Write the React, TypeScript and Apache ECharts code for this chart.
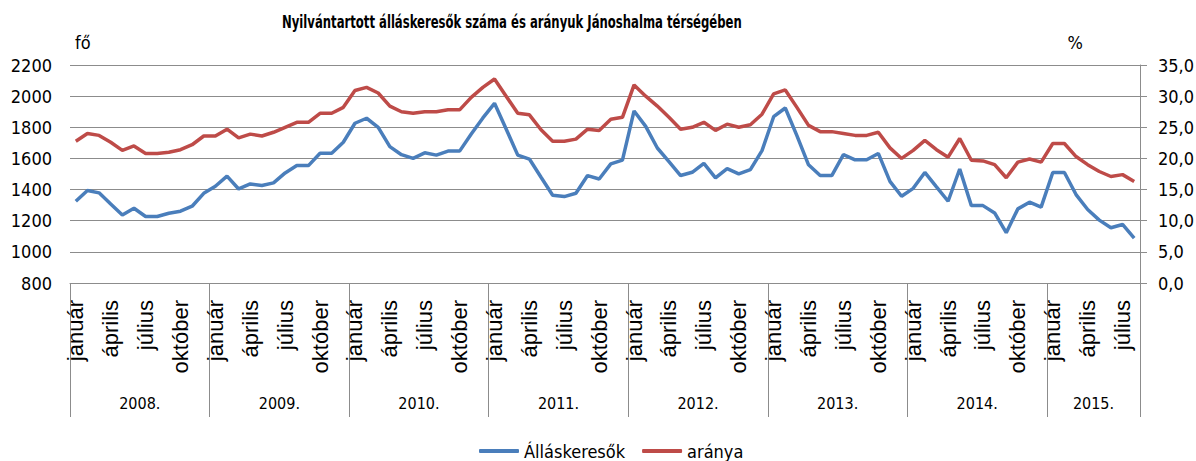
import React, { useEffect, useRef } from "react";
import * as echarts from "echarts";

const YEARS = ["2008.", "2009.", "2010.", "2011.", "2012.", "2013.", "2014.", "2015."];
const MONTHS_PER_YEAR = [12, 12, 12, 12, 12, 12, 12, 8];
const MONTH_NAMES = [
  "január", "február", "március", "április", "május", "június",
  "július", "augusztus", "szeptember", "október", "november", "december",
];
const LABELED_MONTHS = [0, 3, 6, 9];

const JOBSEEKERS = [
  1325, 1394, 1379, 1308, 1237, 1280, 1227, 1227, 1248, 1261, 1293, 1376,
  1421, 1486, 1404, 1436, 1426, 1443, 1507, 1554, 1554, 1633, 1633, 1704,
  1826, 1858, 1800, 1676, 1624, 1600, 1636, 1621, 1647, 1647, 1757, 1860,
  1954, 1789, 1621, 1596, 1479, 1364, 1355, 1376, 1490, 1468, 1565, 1589,
  1905, 1806, 1667, 1579, 1490, 1511, 1568, 1475, 1535, 1501, 1528, 1650,
  1868, 1924, 1746, 1559, 1490, 1490, 1624, 1591, 1591, 1632, 1453, 1357,
  1408, 1510, 1417, 1325, 1532, 1297, 1297, 1250, 1123, 1276, 1319, 1287,
  1510, 1510, 1368, 1272, 1204, 1155, 1176, 1088,
];

const RATIO = [
  22.75, 24.0, 23.7, 22.6, 21.3, 22.0, 20.8, 20.8, 21.0, 21.4, 22.2, 23.6,
  23.6, 24.7, 23.3, 23.9, 23.6, 24.2, 25.0, 25.8, 25.8, 27.25, 27.25, 28.2,
  30.9, 31.4, 30.5, 28.4, 27.5, 27.25, 27.5, 27.5, 27.8, 27.8, 29.8, 31.4,
  32.75, 30.0, 27.25, 27.0, 24.6, 22.75, 22.75, 23.1, 24.7, 24.5, 26.3, 26.6,
  31.8, 30.0, 28.4, 26.6, 24.7, 25.0, 25.8, 24.5, 25.5, 25.0, 25.4, 27.1,
  30.35, 31.0, 28.2, 25.3, 24.3, 24.3, 24.0, 23.7, 23.7, 24.2, 21.7, 20.0,
  21.3, 22.9, 21.4, 20.2, 23.2, 19.7, 19.6, 19.0, 16.9, 19.4, 19.9, 19.4,
  22.4, 22.4, 20.3, 19.0, 17.9, 17.1, 17.4, 16.3,
];

const TITLE = "Nyilvántartott álláskeresők száma és arányuk Jánoshalma térségében";
const SERIES_NAMES = ["Álláskeresők", "aránya"];

const NARROW = "'Liberation Sans Narrow', 'DejaVu Sans Condensed', 'Liberation Sans', sans-serif";
const REGULAR = "'Liberation Sans', 'DejaVu Sans', sans-serif";
const GRID_GRAY = "#8c8c8c";

export default function App() {
  const ref = useRef<HTMLDivElement>(null);

  useEffect(() => {
    if (!ref.current) return;
    const chart = echarts.init(ref.current, null, { renderer: "svg" });

    const categories: string[] = [];
    const monthIdx: number[] = [];
    YEARS.forEach((y, yi) => {
      for (let m = 0; m < MONTHS_PER_YEAR[yi]; m++) {
        categories.push(`${y}${MONTH_NAMES[m]}`);
        monthIdx.push(m);
      }
    });
    const bounds: number[] = [0];
    MONTHS_PER_YEAR.forEach((n) => bounds.push(bounds[bounds.length - 1] + n));
    const mids = YEARS.map((_, i) => (bounds[i] + bounds[i + 1]) / 2);
    const total = bounds[bounds.length - 1];

    chart.setOption({
      animation: false,
      backgroundColor: "#ffffff",
      textStyle: { fontFamily: NARROW },
      graphic: [
        {
          type: "text",
          x: 282,
          y: 13,
          scaleX: 0.72,
          style: {
            text: TITLE,
            font: `bold 18px ${NARROW}`,
            fill: "#000",
            textAlign: "left",
            textVerticalAlign: "top",
          },
        },
      ],
      legend: {
        left: 474,
        top: 436,
        icon: "roundRect",
        itemWidth: 40,
        itemHeight: 4,
        itemGap: 17,
        textStyle: { fontFamily: NARROW, fontSize: 18, lineHeight: 20, color: "#000" },
        data: SERIES_NAMES,
      },
      grid: { left: 70, right: 56, top: 65, bottom: 178, containLabel: false, outerBoundsMode: "none" },
      xAxis: [
        {
          type: "category",
          data: categories,
          boundaryGap: true,
          axisLine: { show: true, lineStyle: { color: GRID_GRAY, width: 1 } },
          axisTick: { show: false },
          axisLabel: {
            interval: (index: number) => LABELED_MONTHS.includes(monthIdx[index]),
            formatter: (_v: string, index: number) => MONTH_NAMES[monthIdx[index]],
            rotate: 90,
            margin: 17,
            fontFamily: REGULAR,
            fontSize: 22,
            color: "#000",
          },
        },
        {
          type: "value",
          min: 0,
          max: total,
          position: "bottom",
          axisLine: { show: false },
          splitLine: { show: false },
          axisTick: {
            show: true,
            customValues: bounds,
            length: 134,
            lineStyle: { color: GRID_GRAY, width: 1 },
          },
          axisLabel: {
            customValues: mids,
            formatter: (v: number) => {
              const i = mids.findIndex((m) => Math.abs(m - v) < 1e-6);
              return i >= 0 ? YEARS[i] : "";
            },
            margin: 112,
            fontFamily: NARROW,
            fontSize: 16,
            color: "#000",
          },
        },
      ],
      yAxis: [
        {
          type: "value",
          min: 800,
          max: 2200,
          interval: 200,
          name: "fő",
          nameLocation: "end",
          nameGap: 14,
          nameTextStyle: { align: "left", padding: [0, 0, 0, 5], fontFamily: NARROW, fontSize: 18, color: "#000" },
          axisLine: { show: false },
          axisTick: { show: false },
          axisLabel: {
            margin: 18,
            fontFamily: NARROW,
            fontSize: 18,
            color: "#000",
            formatter: (v: number) => String(v),
          },
          splitLine: { show: true, lineStyle: { color: GRID_GRAY, width: 1 } },
        },
        {
          type: "value",
          min: 0,
          max: 35,
          interval: 5,
          position: "right",
          name: "%",
          nameLocation: "end",
          nameGap: 14,
          nameTextStyle: { align: "right", padding: [0, 57, 0, 0], fontFamily: NARROW, fontSize: 18, color: "#000" },
          axisLine: { show: true, lineStyle: { color: GRID_GRAY, width: 1 } },
          axisTick: { show: true, length: 7, lineStyle: { color: GRID_GRAY, width: 1 } },
          axisLabel: {
            margin: 18,
            fontFamily: NARROW,
            fontSize: 18,
            color: "#000",
            formatter: (v: number) => v.toFixed(1).replace(".", ","),
          },
          splitLine: { show: false },
        },
      ],
      series: [
        {
          name: SERIES_NAMES[0],
          type: "line",
          xAxisIndex: 0,
          yAxisIndex: 0,
          data: JOBSEEKERS,
          symbol: "none",
          lineStyle: { color: "#4a7ebb", width: 3.5 },
          itemStyle: { color: "#4a7ebb" },
        },
        {
          name: SERIES_NAMES[1],
          type: "line",
          xAxisIndex: 0,
          yAxisIndex: 1,
          data: RATIO,
          symbol: "none",
          lineStyle: { color: "#be4b48", width: 3.5 },
          itemStyle: { color: "#be4b48" },
        },
      ],
    });

    return () => chart.dispose();
  }, []);

  return (
    <div
      ref={ref}
      style={{ position: "absolute", left: 0, top: 0, width: 1196, height: 461 }}
    />
  );
}
